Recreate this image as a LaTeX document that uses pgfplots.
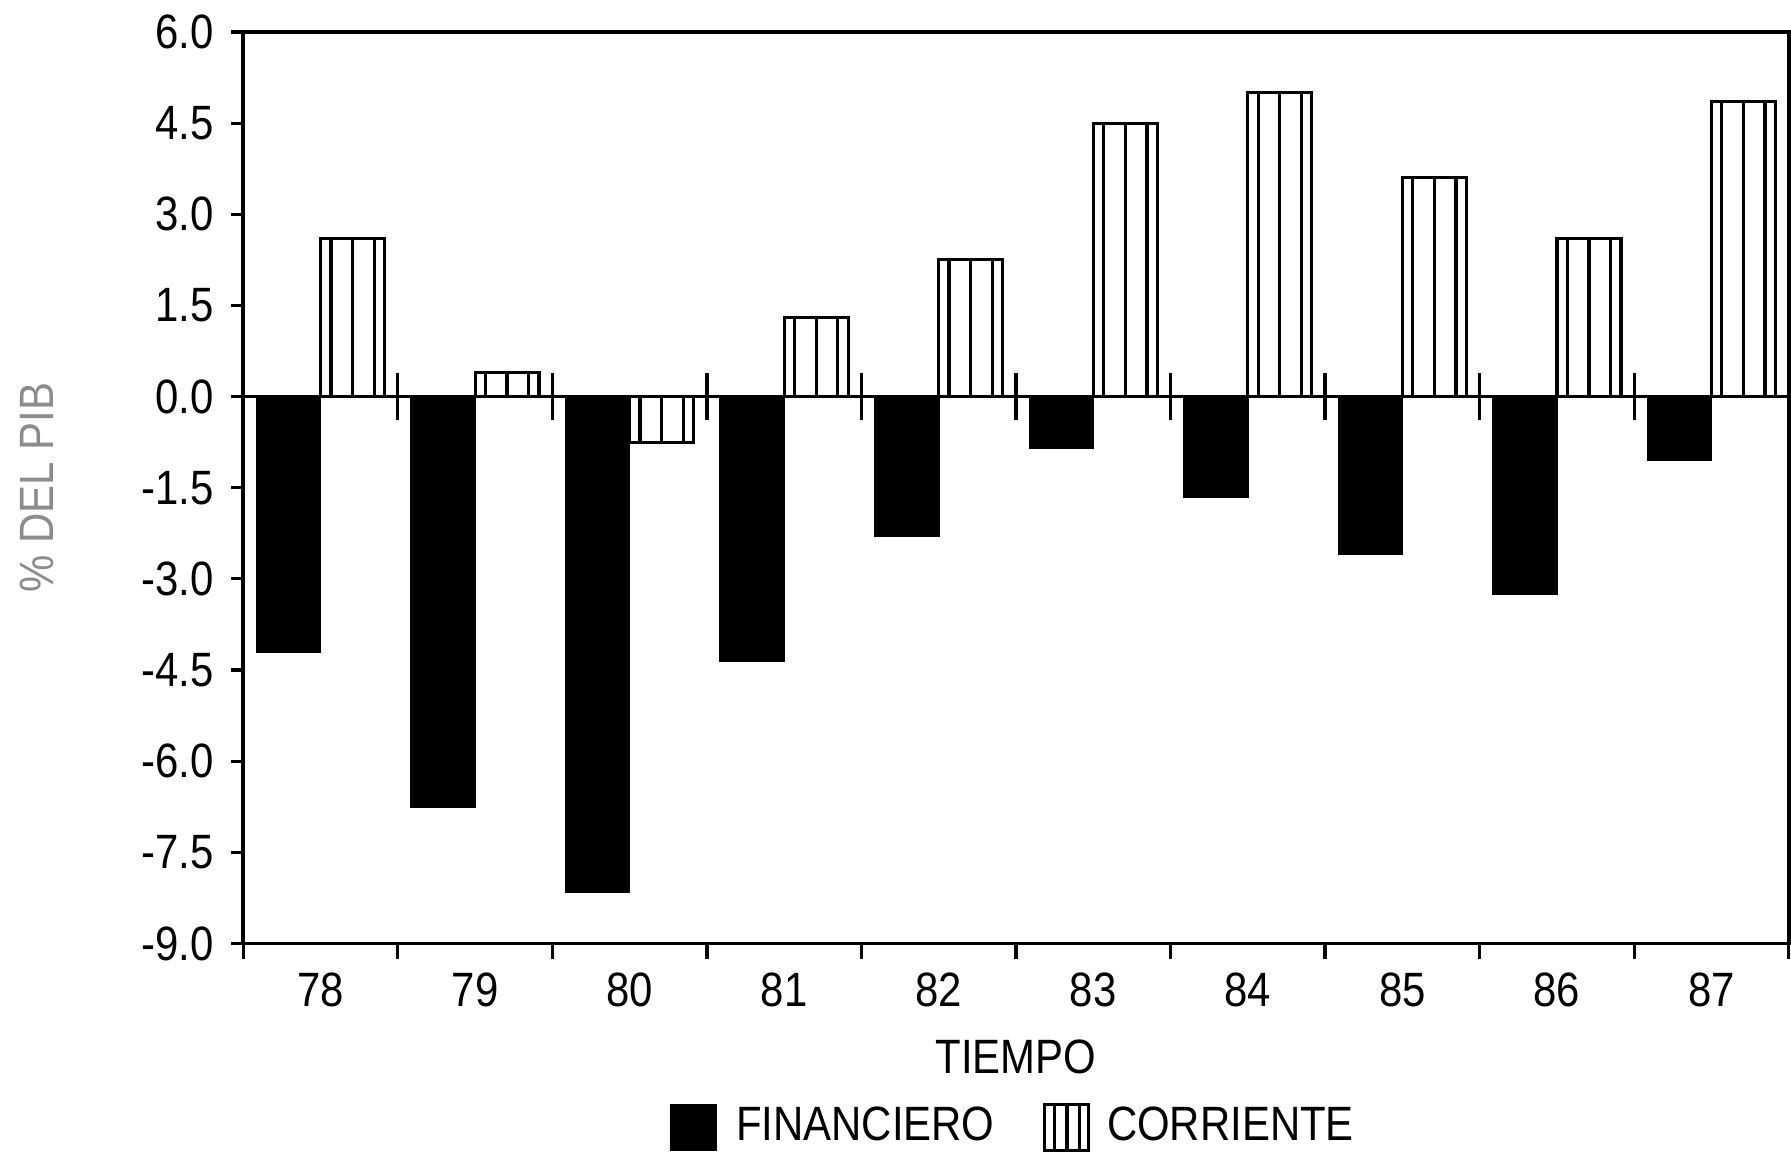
\documentclass[border=0pt]{standalone}
\usepackage{fontspec}
\setmainfont{Liberation Sans}[FakeStretch=0.87]
\usepackage{pgfplots}
\usepackage{pgfplotstable}
\pgfplotsset{compat=1.18}

% deficit as % of GDP, 1978-1987 (x = 0..9)
\pgfplotstableread{
x fin cor
0 -4.20 2.60
1 -6.75 0.40
2 -8.15 -0.75
3 -4.35 1.30
4 -2.30 2.25
5 -0.85 4.50
6 -1.65 5.00
7 -2.60 3.60
8 -3.25 2.60
9 -1.05 4.85
}\datatable

\begin{document}
\fontsize{12}{14}\selectfont
\begin{tikzpicture}
\begin{axis}[
  scale only axis,
  width=135.3mm, height=79.8mm,
  xmin=-0.5, xmax=9.5,
  ymin=-9, ymax=6,
  axis line style={line width=0.9pt},
  tick style={black, line width=0.8pt},
  tick align=outside,
  xtick pos=bottom, ytick pos=left,
  xtick={0,...,9},
  xticklabels={78,79,80,81,82,83,84,85,86,87},
  major x tick style={draw=none},
  minor xtick={-0.5,0.5,...,9.5},
  minor tick length=1.4mm,
  major tick length=1.1mm,
  ytick={-9,-7.5,...,6},
  yticklabel style={/pgf/number format/.cd, fixed, fixed zerofill, precision=1},
  /pgf/number format/assume math mode=true,
  extra y ticks={0},
  extra y tick labels={},
  extra y tick style={grid=major, major grid style={black, line width=0.8pt}, major tick length=0pt},
  xlabel={TIEMPO},
  xlabel style={at={(axis description cs:0.5,0)}, anchor=center, yshift=-9.9mm},
  ylabel={\% DEL PIB},
  ylabel style={at={(axis description cs:-0.1338,0.5)}, anchor=center, rotate=0, text=black!45},
  legend style={at={(axis description cs:0.5,-0.2018)}, anchor=center, draw=none,
    legend columns=2, font=\fontsize{12}{14}\selectfont,
    /tikz/every even column/.append style={column sep=3.5mm}},
  legend cell align=left,
]
\addplot[ybar, bar width=0.414, bar shift=-0.207, fill=black, draw=black,
  legend image code/.code={\fill[black] (0mm,-2mm) rectangle (4mm,2mm);
    \path[draw=none, fill=none] (4mm,0) -- (5mm,0);}]
  table[x=x, y=fin] {\datatable};
\addlegendentry{FINANCIERO}
\addplot[ybar, bar width=0.414, bar shift=0.207, fill=white, draw=black, line width=0.8pt,
  legend image code/.code={\draw[line width=0.8pt, fill=white] (0mm,-2mm) rectangle (3.9mm,2mm);
    \draw[line width=0.8pt] (0.9mm,-2mm) -- (0.9mm,2mm) (2.0mm,-2mm) -- (2.0mm,2mm) (3.1mm,-2mm) -- (3.1mm,2mm);
    \path[draw=none, fill=none] (3.9mm,0) -- (4.8mm,0);}]
  table[x=x, y=cor] {\datatable};
\addlegendentry{CORRIENTE}
\addplot[ybar, bar width=0.28, bar shift=0.207, fill=none, draw=black, line width=0.8pt, forget plot]
  table[x=x, y=cor] {\datatable};
\addplot[ycomb, black, line width=0.8pt, forget plot]
  table[x expr=\thisrow{x}+0.207, y=cor] {\datatable};
% small ticks crossing the zero line between years
\addplot[ycomb, black, line width=0.8pt, forget plot] coordinates {
(0.5,0.38)(0.5,-0.38)(1.5,0.38)(1.5,-0.38)(2.5,0.38)(2.5,-0.38)
(3.5,0.38)(3.5,-0.38)(4.5,0.38)(4.5,-0.38)(5.5,0.38)(5.5,-0.38)
(6.5,0.38)(6.5,-0.38)(7.5,0.38)(7.5,-0.38)(8.5,0.38)(8.5,-0.38)};
\end{axis}
\pgfresetboundingbox
\path[use as bounding box] ([shift={(-21.3mm,-19.0mm)}]current axis.south west) rectangle ([shift={(0.2mm,2.8mm)}]current axis.north east);
\end{tikzpicture}
\end{document}
